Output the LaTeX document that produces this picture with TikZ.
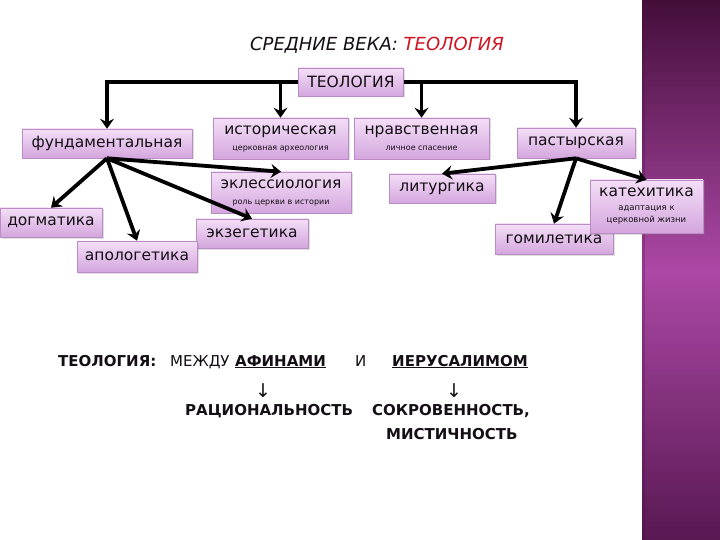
\documentclass[tikz,border=0pt]{standalone}
\usepackage{fontspec}
\setmainfont{DejaVu Sans}
\usetikzlibrary{arrows.meta,shadows}
\definecolor{redt}{RGB}{205,20,35}
\definecolor{txt}{RGB}{20,15,20}
\definecolor{boxtop}{RGB}{244,222,247}
\definecolor{boxbot}{RGB}{212,166,222}
\definecolor{boxline}{RGB}{185,140,195}
\definecolor{barTop}{RGB}{68,14,58}
\definecolor{barMid}{RGB}{172,72,166}
\definecolor{barBot}{RGB}{88,24,82}
\newcommand{\mainsz}{\fontsize{15.5}{17}\selectfont}
\newcommand{\subsz}{\fontsize{8}{9.5}\selectfont}
\newcommand{\ksubsz}{\fontsize{8.5}{11}\selectfont}
\newcommand{\botsz}{\fontsize{15}{17}\selectfont}
\tikzset{
  boxst/.style={draw=boxline, line width=0.6pt, top color=boxtop, bottom color=boxbot,
    inner sep=0pt, align=center, text=txt, font=\mainsz,
    drop shadow={shadow xshift=1.5pt, shadow yshift=-1.5pt, opacity=0.25}},
  arr/.style={line width=3.8pt, draw=black,
    -{Stealth[length=10pt,width=14pt,inset=3.5pt]}},
  btxt/.style={anchor=base west, inner sep=0pt, text=txt, font=\botsz},
  bbtxt/.style={btxt, font=\botsz\bfseries},
  downarr/.style={inner sep=0pt, text=txt, font=\fontsize{19}{20}\selectfont}
}
\begin{document}
\begin{tikzpicture}[x=1pt,y=-1pt]
\useasboundingbox (0,0) rectangle (720,540);
\fill[white] (0,0) rectangle (720,540);
\shade[top color=barTop, bottom color=barBot, middle color=barMid] (642,0) rectangle (720,540);
\fill[barTop, opacity=0.25] (642,0) rectangle (645,540);

% title
\node[inner sep=0pt, font=\fontsize{18}{21}\selectfont\itshape, text=txt] (title) at (377,45)
  {СРЕДНИЕ ВЕКА: \textcolor{redt}{ТЕОЛОГИЯ}};

% boxes
\node[boxst, minimum width=105, minimum height=28] (teo) at (351,82) {ТЕОЛОГИЯ};
\node[boxst, minimum width=170, minimum height=29] (fund) at (107,143.5) {фундаментальная};
\node[boxst, minimum width=135, minimum height=41] (hist) at (280.5,138.5)
  {историческая\\[-1pt]\subsz церковная археология};
\node[boxst, minimum width=135, minimum height=41] (nrav) at (421.5,138.5)
  {нравственная\\[-1pt]\subsz личное спасение};
\node[boxst, minimum width=118, minimum height=30] (past) at (576,143) {пастырская};
\node[boxst, minimum width=140, minimum height=41] (eccl) at (281,192.5)
  {эклессиология\\[-1pt]\subsz роль церкви в истории};
\node[boxst, minimum width=106, minimum height=29] (litu) at (442,188.5) {литургика};
\node[boxst, minimum width=112, minimum height=29] (exeg) at (252,233.5) {экзегетика};
\node[boxst, minimum width=102, minimum height=29] (dogm) at (51,222.5) {догматика};
\node[boxst, minimum width=120, minimum height=31] (apol) at (137,256.5) {апологетика};
\node[boxst, minimum width=118, minimum height=30] (homi) at (554,239) {гомилетика};
\node[boxst, minimum width=113, minimum height=53] (kate) at (646.5,206.5)
  {катехитика\\[-3pt]\ksubsz адаптация к\\[-5pt]\ksubsz церковной жизни};

% top connectors
\draw[arr] (teo.west) -| (fund.north);
\draw[arr] (teo.east) -| (past.north);
\draw[arr] (hist.north |- teo.west) -- (hist.north);
\draw[arr] (nrav.north |- teo.east) -- (nrav.north);

% fans
\draw[arr] (fund.south) -- (dogm.north);
\draw[arr] (fund.south) -- (apol.north);
\draw[arr] (fund.south) -- (exeg.north);
\draw[arr] (fund.south) -- (eccl.north);
\draw[arr] (past.south) -- (litu.north);
\draw[arr] (past.south) -- (homi.north);
\draw[arr] (past.south) -- (kate.north);

% bottom text
\node[bbtxt] (b1) at (58,366) {ТЕОЛОГИЯ:};
\node[btxt] (b2) at (170,366) {МЕЖДУ};
\node[bbtxt] (b3) at (235,366) {\underline{АФИНАМИ}};
\node[btxt] (b4) at (355,366) {И};
\node[bbtxt] (b5) at (392,366) {\underline{ИЕРУСАЛИМОМ}};
\node[downarr] (a1) at (263,391) {↓};
\node[downarr] (a2) at (454,391) {↓};
\node[bbtxt] (r1) at (185,415) {РАЦИОНАЛЬНОСТЬ};
\node[bbtxt] (r2) at (372,415) {СОКРОВЕННОСТЬ,};
\node[bbtxt] (r3) at (386,439) {МИСТИЧНОСТЬ};
\end{tikzpicture}
\end{document}
